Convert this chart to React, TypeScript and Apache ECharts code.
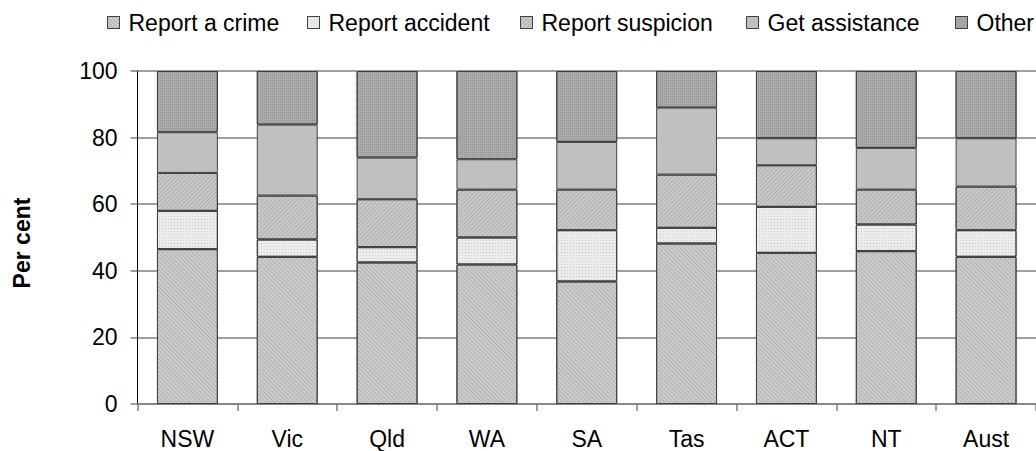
import React, { useEffect, useRef } from "react";
import * as echarts from "echarts";

const categories = ["NSW", "Vic", "Qld", "WA", "SA", "Tas", "ACT", "NT", "Aust"];
const seriesNames = ["Report a crime", "Report accident", "Report suspicion", "Get assistance", "Other"];
const reportCrime = [46.5, 44.2, 42.5, 41.9, 36.8, 48.2, 45.4, 45.9, 44.2];
const reportAccident = [11.5, 5.2, 4.6, 8.1, 15.4, 4.7, 13.8, 8.0, 8.0];
const reportSuspicion = [11.4, 13.2, 14.4, 14.4, 12.2, 16.0, 12.5, 10.5, 13.1];
const getAssistance = [12.2, 21.3, 12.5, 9.1, 14.3, 20.1, 8.1, 12.5, 14.5];
const other = [18.4, 16.1, 26.0, 26.5, 21.3, 11.0, 20.2, 23.1, 20.2];
const yTicks = [0, 20, 40, 60, 80, 100];

const seriesValues = [reportCrime, reportAccident, reportSuspicion, getAssistance, other];
const seriesColors = ["#cecece", "#ececec", "#cbcbcb", "#c0c0c0", "#acacac"];
const seriesDecals: any[] = [
  { symbol: "rect", symbolSize: 1, dashArrayX: [1, 0], dashArrayY: [1, 2], rotation: Math.PI / 4, color: "rgba(110,110,110,0.32)" },
  { symbol: "rect", symbolSize: 1, dashArrayX: [1, 2], dashArrayY: [1, 2], rotation: 0, color: "rgba(150,150,150,0.4)" },
  { symbol: "rect", symbolSize: 1, dashArrayX: [1, 0], dashArrayY: [1, 2], rotation: -Math.PI / 4, color: "rgba(110,110,110,0.32)" },
  null,
  { symbol: "rect", symbolSize: 1, dashArrayX: [1, 1], dashArrayY: [1, 1], rotation: 0, color: "rgba(90,90,90,0.35)" },
];
const legendLefts = [107, 307, 520, 746, 955];

const FONT = "'Liberation Sans', Arial, sans-serif";

export default function App() {
  const ref = useRef<HTMLDivElement>(null);
  useEffect(() => {
    if (!ref.current) return;
    const chart = echarts.init(ref.current, null, { renderer: "svg" });
    const option: any = {
      animation: false,
      backgroundColor: "#ffffff",
      textStyle: { fontFamily: FONT },
      legend: seriesNames.map((name, i) => ({
        data: [name],
        left: legendLefts[i],
        top: 11,
        padding: 0,
        itemWidth: 12,
        itemHeight: 12,
        itemGap: 0,
        selectedMode: false,
        icon: "rect",
        itemStyle: { borderColor: "#404040", borderWidth: 1 },
        textStyle: { fontSize: 23, color: "#000", fontFamily: FONT, padding: [0, 0, 0, 4] },
      })),
      graphic: [
        {
          type: "text",
          x: 22,
          y: 243,
          rotation: Math.PI / 2,
          style: {
            text: "Per cent",
            font: `bold 23px ${FONT}`,
            fill: "#000",
            textAlign: "center",
            textVerticalAlign: "middle",
          },
        },
      ],
      grid: { left: 137.5, top: 71, width: 909, bottom: 47, containLabel: false },
      xAxis: {
        type: "category",
        data: categories,
        axisLine: { lineStyle: { color: "#7f7f7f", width: 1.5 } },
        axisTick: { show: true, length: 7, lineStyle: { color: "#7f7f7f", width: 1.5 } },
        axisLabel: { fontSize: 23, color: "#000", margin: 23, fontFamily: FONT },
        splitLine: { show: false },
      },
      yAxis: {
        type: "value",
        min: yTicks[0],
        max: yTicks[yTicks.length - 1],
        interval: 20,
        axisLine: { show: true, lineStyle: { color: "#000", width: 1 } },
        axisTick: { show: true, length: 7, lineStyle: { color: "#7f7f7f", width: 1.5 } },
        axisLabel: { fontSize: 23, color: "#000", margin: 20, fontFamily: FONT },
        splitLine: { show: true, lineStyle: { color: "#7f7f7f", width: 1.5 } },
      },
      series: seriesNames.map((name, i) => ({
        name,
        type: "bar",
        stack: "total",
        data: seriesValues[i],
        barCategoryGap: "39%",
        itemStyle: {
          color: seriesColors[i],
          borderColor: "#404040",
          borderWidth: 1,
          ...(seriesDecals[i] ? { decal: seriesDecals[i] } : {}),
        },
      })),
    };
    chart.setOption(option);
    return () => chart.dispose();
  }, []);
  return (
    <div
      ref={ref}
      style={{ position: "fixed", left: 0, top: 0, width: 1036, height: 451 }}
    />
  );
}
